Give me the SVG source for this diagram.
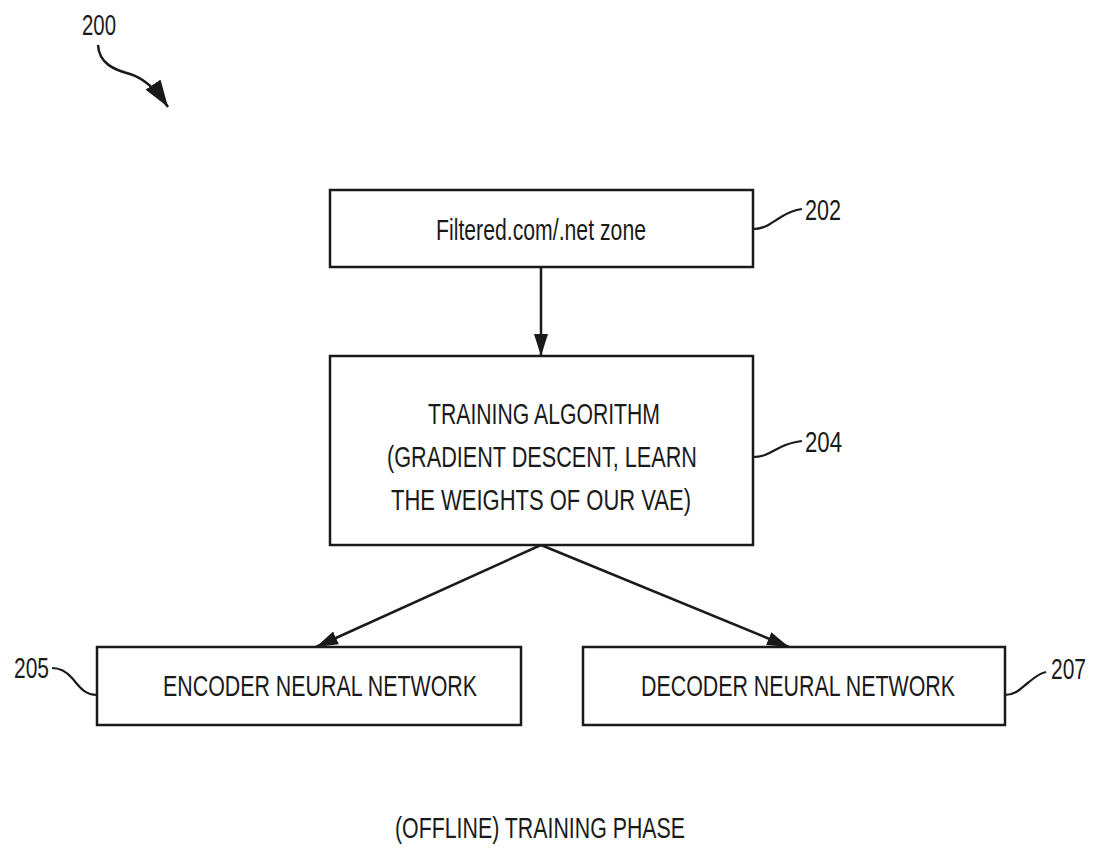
<svg xmlns="http://www.w3.org/2000/svg" width="1099" height="850" viewBox="0 0 1099 850">
<style>
.box{fill:#fff;stroke:#1a1a1a;stroke-width:2.5}
.t{font-family:"Liberation Sans",Arial,sans-serif;font-size:29px;fill:#1a1a1a}
.c{text-anchor:middle}
.ln{fill:none;stroke:#1a1a1a;stroke-width:2.5}
.ld{fill:none;stroke:#1a1a1a;stroke-width:2.2}
</style>
<defs>
<marker id="ah" viewBox="0 0 22 14" refX="22" refY="7" markerWidth="22" markerHeight="14" markerUnits="userSpaceOnUse" orient="auto"><path d="M0,0 L22,7 L0,14 z" fill="#1a1a1a"/></marker>
<marker id="ah2" viewBox="0 0 27 18" refX="27" refY="9" markerWidth="27" markerHeight="18" markerUnits="userSpaceOnUse" orient="auto"><path d="M0,0 L27,9 L0,18 z" fill="#1a1a1a"/></marker>
</defs>
<rect width="1099" height="850" fill="#fff"/>
<g id="fig-ref">
<text class="t" x="82" y="35" textLength="34" lengthAdjust="spacingAndGlyphs">200</text>
<path class="ln" d="M98,45 C99,64 115,70 130,74 C146,79 158,92 168,107" marker-end="url(#ah2)"/>
</g>
<g id="connectors">
<line class="ln" x1="541" y1="267" x2="541" y2="356" marker-end="url(#ah)"/>
<line class="ln" x1="541" y1="545" x2="316" y2="647" marker-end="url(#ah)"/>
<line class="ln" x1="541" y1="545" x2="789" y2="647" marker-end="url(#ah)"/>
</g>
<g id="node-202">
<rect class="box" x="330" y="190" width="423" height="77"/>
<text class="t c" x="541" y="240" textLength="210" lengthAdjust="spacingAndGlyphs">Filtered.com/.net zone</text>
<path class="ld" d="M753,229 C766,229 772,222 781,217 C789,212 795,210 802,209"/>
<text class="t" x="805" y="220" textLength="36" lengthAdjust="spacingAndGlyphs">202</text>
</g>
<g id="node-204">
<rect class="box" x="330" y="356" width="423" height="189"/>
<text class="t c" x="544" y="424" textLength="232" lengthAdjust="spacingAndGlyphs">TRAINING ALGORITHM</text>
<text class="t c" x="542" y="467" textLength="310" lengthAdjust="spacingAndGlyphs">(GRADIENT DESCENT, LEARN</text>
<text class="t c" x="541" y="510" textLength="300" lengthAdjust="spacingAndGlyphs">THE WEIGHTS OF OUR VAE)</text>
<path class="ld" d="M753,457 C766,457 772,451 781,447 C789,443 795,442 802,441"/>
<text class="t" x="805" y="452" textLength="37" lengthAdjust="spacingAndGlyphs">204</text>
</g>
<g id="node-205">
<rect class="box" x="97" y="647" width="424" height="78"/>
<text class="t c" x="320" y="696" textLength="314" lengthAdjust="spacingAndGlyphs">ENCODER NEURAL NETWORK</text>
<path class="ld" d="M97,695 C84,695 79,686 72,678 C66,671 60,668 52,668"/>
<text class="t" x="14" y="678" textLength="35" lengthAdjust="spacingAndGlyphs">205</text>
</g>
<g id="node-207">
<rect class="box" x="583" y="647" width="422" height="78"/>
<text class="t c" x="798" y="696" textLength="314" lengthAdjust="spacingAndGlyphs">DECODER NEURAL NETWORK</text>
<path class="ld" d="M1005,695 C1016,695 1021,688 1029,682 C1036,676 1041,673 1046,672"/>
<text class="t" x="1051" y="679" textLength="35" lengthAdjust="spacingAndGlyphs">207</text>
</g>
<g id="caption">
<text class="t c" x="540" y="838" textLength="290" lengthAdjust="spacingAndGlyphs">(OFFLINE) TRAINING PHASE</text>
</g>
</svg>
